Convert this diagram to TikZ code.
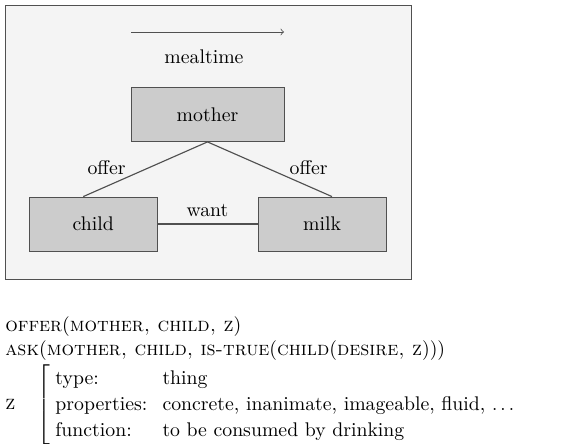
\documentclass[tikz,border=0pt]{standalone}
\usepackage{tikz}
\usetikzlibrary{arrows}

\definecolor{panelgray}{HTML}{F4F4F4}
\definecolor{boxgray}{HTML}{CCCCCC}
\definecolor{edgegray}{HTML}{505050}

\tikzset{
  concept/.style={draw=edgegray, fill=boxgray, minimum height=1.0cm, inner sep=0pt},
  link/.style={draw=edgegray, line width=0.6pt},
  tag/.style={inner sep=1pt}
}

\begin{document}
\begin{tikzpicture}[x=0.0185cm, y=-0.0185cm, font=\fontsize{10.4}{12.5}\selectfont]
\useasboundingbox (0,0) rectangle (567,444);
\draw [edgegray, fill=panelgray] (5,5) rectangle (411,279);

\coordinate (t0) at (131,32);
\coordinate (t1) at (284,32);
\node (meal) at (204,57) [] {mealtime};

\node (mother) at (207.5,114.5) [concept, minimum width=2.83cm] {mother};
\node (child) at (93.25,224) [concept, minimum width=2.36cm] {child};
\node (milk) at (322,224) [concept, minimum width=2.37cm] {milk};

\draw [->, edgegray] (t0) -- (t1);
\draw [link] (mother.south) -- (child.110) node[tag, pos=0.64, above left] {offer};
\draw [link] (mother.south) -- (milk.70) node[tag, pos=0.64, above right] {offer};
\draw [link] (child) -- (milk) node[midway, above] {want};

\node (offerrel) at (5,327) [anchor=west, inner sep=0pt] {\textsc{offer}(\textsc{mother, child, z})};
\node (askrel) at (5,351) [anchor=west, inner sep=0pt] {\textsc{ask}(\textsc{mother, child, is-true}(\textsc{child}(\textsc{desire, z})))};
\node (zframe) at (5,405) [anchor=west, inner sep=0pt] {\textsc{z}\hspace{1.1em}$\left[\hspace{3pt}\renewcommand{\arraystretch}{1.1}\begin{tabular}{@{}l@{\hspace{8pt}}l@{}}
type: & thing\\
properties: & concrete, inanimate, imageable, fluid, $\ldots$\\
function: & to be consumed by drinking
\end{tabular}\right.$};
\end{tikzpicture}
\end{document}
